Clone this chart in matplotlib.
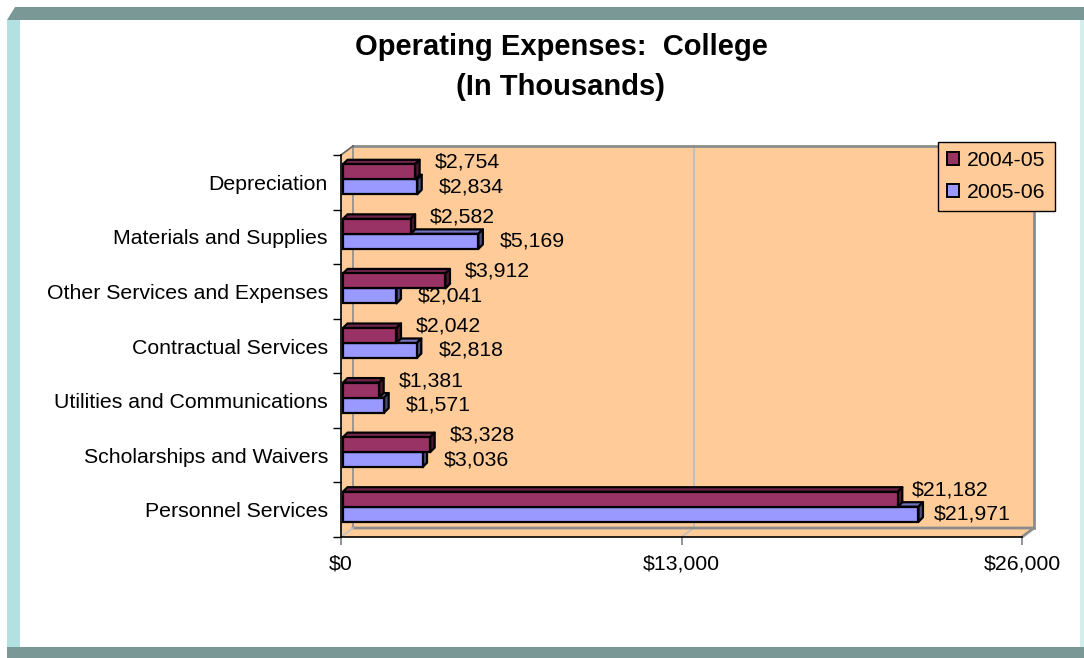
"""Operating expenses of the college, drawn as an Excel-style 3D bar chart."""
import matplotlib
matplotlib.use("Agg")

import matplotlib.pyplot as plt
from matplotlib.colors import to_rgb
from matplotlib.patches import Patch, Polygon
from matplotlib.ticker import FixedLocator, FuncFormatter

# --- data -----------------------------------------------------------------
categories = [
    "Depreciation",
    "Materials and Supplies",
    "Other Services and Expenses",
    "Contractual Services",
    "Utilities and Communications",
    "Scholarships and Waivers",
    "Personnel Services",
]
series_names = ["2004-05", "2005-06"]
values_0405 = [2754, 2582, 3912, 2042, 1381, 3328, 21182]
values_0506 = [2834, 5169, 2041, 2818, 1571, 3036, 21971]
x_ticks = [0, 13000, 26000]

# --- style ----------------------------------------------------------------
PEACH = "#FFCC99"
MAROON = "#993366"
LAVENDER = "#9999FF"
WALL_EDGE = "#8C8C8C"
GRID = "#C0C0C0"
FRAME_DARK = "#7A9996"
FRAME_LIGHT = "#B3E0E0"
FS = 15.3
EDGE_LW = 1.6

W, H, DPI = 1084, 658, 100
AX_L, AX_R, AX_T, AX_B = 341, 1022, 155, 537   # front plane of the plot, pixels
XMAX = x_ticks[-1]
N = len(categories)

plt.rcParams["font.family"] = ["Liberation Sans", "DejaVu Sans"]
plt.rcParams["font.size"] = FS


def shade(color, f):
    r, g, b = to_rgb(color)
    return (r * f, g * f, b * f)


def fx(px):
    return px / W


def fy(py):
    return 1 - py / H


fig = plt.figure(figsize=(W / DPI, H / DPI), dpi=DPI)
fig.patch.set_facecolor("white")

# outer frame (bevelled box look)
frame = [
    ([(7, 20), (15, 7), (W, 7), (W, 20)], FRAME_DARK),
    ([(7, 20), (20, 20), (20, 647), (7, 647)], FRAME_LIGHT),
    ([(1080, 20), (W, 20), (W, 647), (1080, 647)], "#D4EEEE"),
    ([(7, 647), (W, 647), (W, H), (7, H)], FRAME_DARK),
]
for pts, col in frame:
    fig.patches.append(Polygon([(fx(x), fy(y)) for x, y in pts], closed=True,
                               facecolor=col, edgecolor="none",
                               transform=fig.transFigure, zorder=0))

fig.text(fx(561), fy(47), "Operating Expenses:  College", ha="center", va="center",
         fontsize=21, fontweight="bold")
fig.text(fx(561), fy(87), "(In Thousands)", ha="center", va="center",
         fontsize=21, fontweight="bold")

ax = fig.add_axes([fx(AX_L), fy(AX_B), (AX_R - AX_L) / W, (AX_B - AX_T) / H])
ax.set_xlim(0, XMAX)
ax.set_ylim(N - 0.5, -0.5)
ax.patch.set_visible(False)

px_x = (AX_R - AX_L) / XMAX
px_cat = (AX_B - AX_T) / N


def dx(px):
    return px / px_x


def dy(px):
    return px / px_cat


# walls: depth of the chart box is 12 px right, 9 px up
wx, wy = dx(12), dy(9)
top, bot = -0.5, N - 0.5
back = [(wx, top - wy), (XMAX + wx, top - wy), (XMAX + wx, bot - wy), (wx, bot - wy)]
left_wall = [(0, top), (wx, top - wy), (wx, bot - wy), (0, bot)]
floor = [(0, bot), (XMAX, bot), (XMAX + wx, bot - wy), (wx, bot - wy)]
for pts in (back, left_wall, floor):
    ax.add_patch(Polygon(pts, closed=True, facecolor=PEACH, edgecolor="none",
                         clip_on=False, zorder=0.5))

# back-wall grid line at the middle tick, continued across the floor
mid = x_ticks[1]
ax.plot([mid + wx, mid + wx], [top - wy, bot - wy], color=GRID, lw=1.5,
        clip_on=False, zorder=0.6)
ax.plot([mid, mid + wx], [bot, bot - wy], color=GRID, lw=1.2,
        clip_on=False, zorder=0.6)

# wall borders
ax.plot([wx, XMAX + wx, XMAX + wx], [top - wy, top - wy, bot - wy],
        color=WALL_EDGE, lw=2, clip_on=False, zorder=0.7, solid_joinstyle="miter")
ax.plot([wx, XMAX + wx, XMAX], [bot - wy, bot - wy, bot],
        color=WALL_EDGE, lw=2, clip_on=False, zorder=0.7)
ax.plot([wx, wx], [top - wy, bot - wy], color=WALL_EDGE, lw=1.2,
        clip_on=False, zorder=0.7)
ax.plot([0, wx], [top, top - wy], color="#606060", lw=1.2, clip_on=False, zorder=0.7)
ax.plot([0, wx], [bot, bot - wy], color=GRID, lw=1.2, clip_on=False, zorder=0.7)

# bars: front face plus a small top and right face
bh = dy(15)
x0 = dx(2)
depth_x, depth_y = dx(4.5), dy(4.5)
lift = dy(3)


def bar3d(y, v, color, z):
    yt, yb = y - bh / 2, y + bh / 2
    x1 = x0 + v
    top_face = [(x0, yt), (x1, yt), (x1 + depth_x, yt - depth_y), (x0 + depth_x, yt - depth_y)]
    side_face = [(x1, yt), (x1 + depth_x, yt - depth_y), (x1 + depth_x, yb - depth_y), (x1, yb)]
    ax.add_patch(Polygon(top_face, closed=True, facecolor=shade(color, 0.75),
                         edgecolor="black", lw=EDGE_LW, zorder=z, joinstyle="round"))
    ax.add_patch(Polygon(side_face, closed=True, facecolor=shade(color, 0.5),
                         edgecolor="black", lw=EDGE_LW, zorder=z, joinstyle="round"))
    ax.barh(y, v, height=bh, left=x0, color=color, edgecolor="black",
            linewidth=EDGE_LW, zorder=z + 0.1)


for i in range(N):
    yc = i - lift
    bar3d(yc + bh / 2, values_0506[i], LAVENDER, 2)
    bar3d(yc - bh / 2, values_0405[i], MAROON, 3)
    ax.annotate(f"${values_0405[i]:,}", xy=(x0 + values_0405[i], yc - bh / 2),
                xytext=(52, 9.5), textcoords="offset pixels",
                ha="center", va="center", fontsize=FS, zorder=5)
    ax.annotate(f"${values_0506[i]:,}", xy=(x0 + values_0506[i], yc + bh / 2),
                xytext=(54, 0), textcoords="offset pixels",
                ha="center", va="center", fontsize=FS, zorder=5)

# axes
for side in ("top", "right"):
    ax.spines[side].set_visible(False)
for side in ("left", "bottom"):
    ax.spines[side].set_color("black")
    ax.spines[side].set_linewidth(1.2)
    ax.spines[side].set_zorder(4)

ax.yaxis.set_major_locator(FixedLocator(range(N)))
ax.set_yticklabels(categories)
ax.yaxis.set_minor_locator(FixedLocator([k - 0.5 for k in range(N + 1)]))
ax.tick_params(axis="y", which="major", length=0, pad=9.4, labelsize=FS)
ax.tick_params(axis="y", which="minor", length=5.8, width=1, color="black")

ax.xaxis.set_major_locator(FixedLocator(x_ticks))
ax.xaxis.set_major_formatter(FuncFormatter(lambda v, _: f"${v:,.0f}"))
ax.tick_params(axis="x", which="major", length=5.8, width=1.2, color="#808080",
               pad=7, labelsize=FS)

handles = [Patch(facecolor=MAROON, edgecolor="black", linewidth=1.4),
           Patch(facecolor=LAVENDER, edgecolor="black", linewidth=1.4)]
leg = ax.legend(handles, series_names, loc="upper left",
                bbox_to_anchor=(fx(938), fy(142)), bbox_transform=fig.transFigure,
                borderaxespad=0, frameon=True, fancybox=False, framealpha=1,
                facecolor=PEACH, edgecolor="black", fontsize=FS,
                handlelength=0.55, handleheight=0.55, handletextpad=0.4,
                labelspacing=0.62, borderpad=0.42)
leg.get_frame().set_linewidth(1)
leg.set_zorder(6)

fig.savefig("out.png", dpi=DPI)
